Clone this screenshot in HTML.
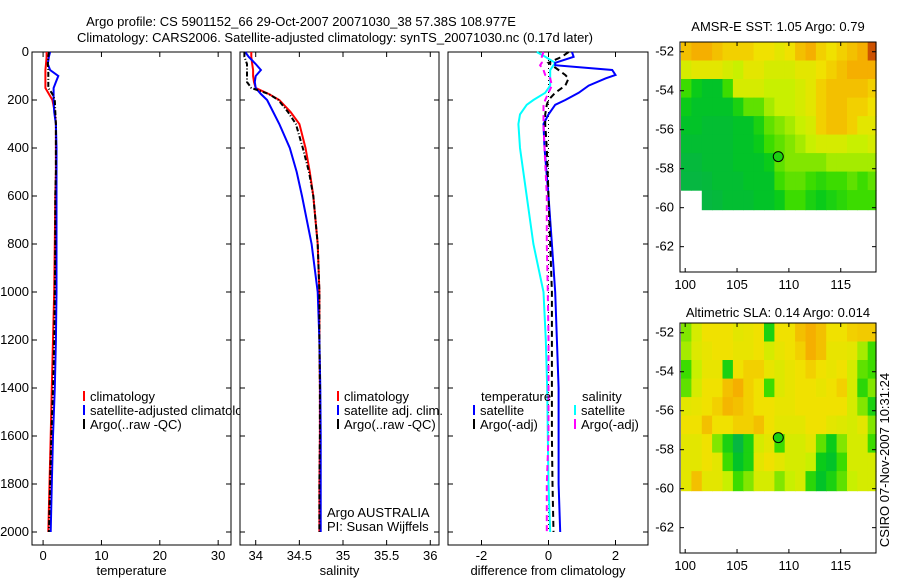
<!DOCTYPE html>
<html><head><meta charset="utf-8">
<style>
html,body{margin:0;padding:0;background:#fff;}
svg{display:block;font-family:"Liberation Sans",sans-serif;}
text{font-size:13px;fill:#000;}
</style></head>
<body>
<svg id="fig" width="900" height="580" viewBox="0 0 900 580">
<text x="301" y="26" text-anchor="middle">Argo profile: CS 5901152_66 29-Oct-2007 20071030_38 57.38S 108.977E</text>
<text x="335" y="42" text-anchor="middle">Climatology: CARS2006. Satellite-adjusted climatology: synTS_20071030.nc (0.17d later)</text>
<text x="778" y="31" text-anchor="middle">AMSR-E SST: 1.05 Argo: 0.79</text>
<text x="778" y="317" text-anchor="middle">Altimetric SLA: 0.14 Argo: 0.014</text>
<text transform="translate(889,460) rotate(-90)" text-anchor="middle">CSIRO 07-Nov-2007 10:31:24</text>
</svg>
<script>
// ---------- data ----------
const depthTS = [0,20,50,75,100,125,150,175,200,250,300,400,500,600,800,1000,1200,1400,1600,1800,2000];
const tempClim = [0.6,0.6,0.5,0.4,0.4,0.4,0.4,1.0,1.6,2.0,2.2,2.2,2.2,2.1,2.0,1.9,1.7,1.5,1.3,1.1,0.9];
const tempSat  = [1.2,1.0,0.8,1.2,2.6,2.2,1.8,1.8,1.8,1.9,2.2,2.3,2.3,2.3,2.3,2.3,2.2,2.0,1.7,1.5,1.3];
const tempArgo = [1.0,0.9,0.8,0.9,0.9,0.9,0.9,1.6,2.0,2.1,2.2,2.2,2.2,2.1,2.1,2.0,1.9,1.7,1.4,1.2,1.0];
const salClim = [33.95,33.95,33.96,33.97,33.97,33.98,34.0,34.15,34.27,34.4,34.5,34.57,34.62,34.66,34.71,34.73,34.73,34.735,34.735,34.73,34.73];
const salSat  = [33.88,33.92,34.0,34.06,34.0,33.99,34.0,34.06,34.13,34.2,34.27,34.39,34.47,34.53,34.64,34.71,34.73,34.74,34.745,34.745,34.745];
const salArgo = [33.87,33.87,33.9,33.9,33.9,33.9,33.95,34.15,34.26,34.37,34.46,34.54,34.61,34.66,34.71,34.73,34.73,34.735,34.735,34.73,34.73];
const depthDiff = [0,20,45,55,75,96,110,140,170,200,220,260,300,400,600,800,1000,1200,1400,1600,1800,2000];
const diffTempSat  = [0.7,0.75,0.2,0.2,1.9,2.0,1.7,1.2,0.9,0.5,0.2,0.0,-0.15,-0.12,0.0,0.1,0.2,0.25,0.3,0.3,0.3,0.35];
const diffTempArgo = [0.6,0.4,0.0,0.1,0.3,0.5,0.6,0.5,0.2,0.0,-0.05,-0.1,-0.1,-0.05,0.0,0.05,0.1,0.1,0.1,0.1,0.12,0.15];
const diffSalSat   = [-0.35,-0.1,0.2,0.15,0.05,0.05,0.05,0.05,-0.1,-0.45,-0.65,-0.85,-0.9,-0.85,-0.65,-0.45,-0.15,-0.08,-0.04,-0.02,0.0,0.05];
const diffSalArgo  = [-0.15,-0.2,-0.2,-0.25,-0.15,-0.1,0.05,0.1,0.0,-0.1,-0.15,-0.15,-0.15,-0.12,-0.05,-0.05,-0.02,0.0,0.0,0.0,-0.05,-0.05];
const depthTicks = [0,200,400,600,800,1000,1200,1400,1600,1800,2000];
const tempTicks = [0,10,20,30];
const salTicks = [34,34.5,35,35.5,36];
const diffTicks = [-2,0,2];
const lonTicks = [100,105,110,115];
const latTicks = [-52,-54,-56,-58,-60,-62];
const mapLons = [99.6,100.6,101.6,102.6,103.6,104.6,105.6,106.6,107.6,108.6,109.6,110.6,111.6,112.6,113.6,114.6,115.6,116.6,117.6];
const mapLats = [-51.5,-52.45,-53.4,-54.35,-55.3,-56.25,-57.2,-58.15,-59.1];
const sstGrid = [
[0.75,0.8,0.8,0.75,0.7,0.7,0.7,0.65,0.65,0.6,0.65,0.75,0.8,0.7,0.65,0.7,0.75,0.8,0.95],
[0.55,0.6,0.6,0.6,0.55,0.5,0.6,0.6,0.55,0.55,0.55,0.6,0.6,0.65,0.7,0.75,0.8,0.8,0.8],
[0.3,0.15,0.1,0.1,0.3,0.55,0.55,0.55,0.5,0.5,0.5,0.55,0.6,0.7,0.75,0.75,0.75,0.75,0.7],
[0.15,0.1,0.1,0.1,0.1,0.2,0.35,0.35,0.45,0.5,0.5,0.55,0.6,0.7,0.75,0.75,0.7,0.7,0.65],
[0.1,0.1,0.08,0.08,0.08,0.1,0.1,0.2,0.35,0.4,0.45,0.5,0.55,0.7,0.75,0.75,0.7,0.6,0.6],
[0.08,0.08,0.08,0.08,0.08,0.1,0.1,0.15,0.3,0.35,0.4,0.45,0.5,0.55,0.55,0.55,0.5,0.5,0.55],
[0.06,0.06,0.08,0.08,0.08,0.1,0.1,0.1,0.15,0.35,0.4,0.4,0.4,0.4,0.45,0.45,0.45,0.45,0.45],
[0.05,0.05,0.06,0.08,0.08,0.08,0.1,0.1,0.1,0.3,0.35,0.35,0.3,0.25,0.3,0.3,0.35,0.3,0.35],
[-1,-1,0.05,0.06,0.08,0.08,0.08,0.1,0.1,0.15,0.3,0.3,0.2,0.15,0.2,0.25,0.3,0.3,0.3]];
const slaGrid = [
[0.4,0.55,0.65,0.65,0.65,0.6,0.62,0.65,0.2,0.65,0.65,0.75,0.8,0.75,0.65,0.65,0.7,0.72,0.72],
[0.45,0.58,0.62,0.65,0.65,0.62,0.62,0.65,0.55,0.62,0.65,0.7,0.8,0.75,0.62,0.62,0.6,0.45,0.3],
[0.3,0.5,0.62,0.62,0.2,0.65,0.7,0.7,0.62,0.58,0.62,0.65,0.7,0.65,0.62,0.65,0.55,0.35,0.3],
[0.35,0.55,0.65,0.65,0.75,0.8,0.7,0.65,0.3,0.58,0.62,0.65,0.65,0.62,0.65,0.7,0.55,0.25,0.4],
[0.6,0.62,0.65,0.7,0.78,0.75,0.7,0.65,0.65,0.62,0.62,0.65,0.65,0.65,0.65,0.65,0.55,0.4,0.2],
[0.65,0.65,0.75,0.65,0.65,0.7,0.7,0.75,0.65,0.6,0.6,0.6,0.65,0.65,0.6,0.58,0.55,0.6,0.4],
[0.6,0.6,0.65,0.4,0.2,0.05,0.2,0.55,0.6,0.3,0.55,0.55,0.6,0.35,0.15,0.4,0.55,0.55,0.3],
[0.6,0.6,0.65,0.6,0.3,0.1,0.2,0.6,0.65,0.6,0.55,0.55,0.5,0.15,0.1,0.3,0.55,0.55,0.55],
[0.6,0.75,0.6,0.6,0.5,0.3,0.4,0.55,0.55,0.4,0.5,0.55,0.25,0.1,0.2,0.35,0.5,0.55,0.55]];
const argoLon = 108.977, argoLat = -57.38;

// ---------- drawing ----------
const NS = 'http://www.w3.org/2000/svg';
const svg = document.getElementById('fig');
function mk(tag, attrs, parent){ const e=document.createElementNS(NS,tag); for(const k in attrs) e.setAttribute(k,attrs[k]); (parent||svg).appendChild(e); return e; }
function lin(d0,d1,r0,r1){ return v => r0 + (v-d0)*(r1-r0)/(d1-d0); }
const yDepth = lin(0,2000,52,532);

function profilePanel(x0,x1,xmin,xmax,ticks,tickFmt,label,name,showY){
  const sx = lin(xmin,xmax,x0,x1);
  const g = mk('g',{});
  
  
  const r = mk('rect',{x:x0,y:52,width:x1-x0,height:493,fill:'#fff',stroke:'#000','stroke-width':1},g);
  
  
  depthTicks.forEach(d=>{
    const y=yDepth(d);
    mk('line',{x1:x0,y1:y,x2:x0+5,y2:y,stroke:'#000'},g);
    mk('line',{x1:x1,y1:y,x2:x1-5,y2:y,stroke:'#000'},g);
    if(showY){ const t=mk('text',{x:x0-3,y:y+4,'text-anchor':'end'},g); t.textContent=d;
      
       }
  });
  ticks.forEach(v=>{
    const x=sx(v);
    mk('line',{x1:x,y1:545,x2:x,y2:540,stroke:'#000'},g);
    mk('line',{x1:x,y1:52,x2:x,y2:57,stroke:'#000'},g);
    const t=mk('text',{x:x,y:560,'text-anchor':'middle'},g); t.textContent=tickFmt(v);
    
    
  });
  const xl=mk('text',{x:(x0+x1)/2,y:575,'text-anchor':'middle'},g); xl.textContent=label;
  
  
  return {sx,g};
}
function series(p,depths,vals,color,dash,name,w){
  const d = depths.map((dd,i)=>(i?'L':'M')+p.sx(vals[i]).toFixed(1)+','+yDepth(dd).toFixed(1)).join('');
  const e = mk('path',{d:d,fill:'none',stroke:color,'stroke-width':w||2,'stroke-dasharray':dash||'none'},p.g);
  
  
}
function legend(x,y,color,label,name,g){
  mk('line',{x1:x,y1:y-10,x2:x,y2:y,stroke:color,'stroke-width':2},g);
  const t=mk('text',{x:x+6,y:y},g); t.textContent=label;
  
  
}

const p1 = profilePanel(32,231,-1.9,32.2,tempTicks,v=>v,'temperature','temperature-panel',true);
series(p1,depthTS,tempClim,'#f00',null,'temp-climatology-line');
series(p1,depthTS,tempSat,'#00f',null,'temp-satellite-line');
series(p1,depthTS,tempArgo,'#000','5,2,1,2','temp-argo-line');
legend(84,401,'#f00','climatology','legend-climatology',p1.g);
legend(84,415,'#00f','satellite-adjusted climatology','legend-satellite-adjusted',p1.g);
legend(84,429,'#000','Argo(..raw -QC)','legend-argo',p1.g);

const p2 = profilePanel(240,439,33.82,36.1,salTicks,v=>v,'salinity','salinity-panel',false);
series(p2,depthTS,salClim,'#f00',null,'sal-climatology-line');
series(p2,depthTS,salSat,'#00f',null,'sal-satellite-line');
series(p2,depthTS,salArgo,'#000','5,2,1,2','sal-argo-line');
legend(338,401,'#f00','climatology','legend-climatology',p2.g);
legend(338,415,'#00f','satellite adj. clim.','legend-satellite-adj',p2.g);
legend(338,429,'#000','Argo(..raw -QC)','legend-argo',p2.g);
[['Argo AUSTRALIA',517],['PI: Susan Wijffels',531]].forEach(a=>{const t=mk('text',{x:327,y:a[1]},p2.g);t.textContent=a[0];
  
  });

const p3 = profilePanel(448,648,-3.0,2.97,diffTicks,v=>v,'difference from climatology','difference-panel',false);
mk('line',{x1:p3.sx(0),y1:52,x2:p3.sx(0),y2:532,stroke:'#000','stroke-width':1,'stroke-dasharray':'1,3'},p3.g);
series(p3,depthDiff,diffSalSat,'#0ff',null,'diff-sal-satellite-line');
series(p3,depthDiff,diffTempSat,'#00f',null,'diff-temp-satellite-line');
series(p3,depthDiff,diffTempArgo,'#000','6,4','diff-temp-argo-line');
series(p3,depthDiff,diffSalArgo,'#f0f','6,4','diff-sal-argo-line');
{const t=mk('text',{x:481,y:401},p3.g);t.textContent='temperature';}
{const t=mk('text',{x:582,y:401},p3.g);t.textContent='salinity';}
legend(474,415,'#00f','satellite','legend-temp-satellite',p3.g);
legend(474,429,'#000','Argo(-adj)','legend-temp-argo',p3.g);
legend(575,415,'#0ff','satellite','legend-sal-satellite',p3.g);
legend(575,429,'#f0f','Argo(-adj)','legend-sal-argo',p3.g);

// colormap green -> yellow -> orange -> red
const cstops=[[0,[10,170,90]],[0.12,[0,200,30]],[0.3,[60,220,0]],[0.5,[200,240,0]],[0.65,[240,225,0]],[0.8,[245,175,0]],[1,[190,50,0]]];
function cmap(v){
  for(let i=1;i<cstops.length;i++){ if(v<=cstops[i][0]){ const a=cstops[i-1],b=cstops[i],t=(v-a[0])/(b[0]-a[0]);
    return 'rgb('+a[1].map((c,k)=>Math.round(c+(b[1][k]-c)*t)).join(',')+')'; } }
  return 'rgb(190,50,0)';
}
function mapPanel(top,grid,name){
  const x0=680,x1=876,y1=top+230;
  const sx=lin(99.5,118.4,x0,x1), sy=lin(-51.5,-63.3,top,y1);
  const g=mk('g',{});
  
  
  mk('rect',{x:x0,y:top,width:x1-x0,height:y1-top,fill:'#fff'},g);
  grid.forEach((row,i)=>row.forEach((v,j)=>{
    if(v<0) return;
    const la0=mapLats[i], la1=i+1<mapLats.length?mapLats[i+1]:-60.1;
    const lo0=mapLons[j], lo1=j+1<mapLons.length?mapLons[j+1]:118.4;
    const c=mk('rect',{x:sx(lo0).toFixed(1),y:sy(la0).toFixed(1),width:(sx(lo1)-sx(lo0)+0.6).toFixed(1),height:(sy(la1)-sy(la0)+0.6).toFixed(1),fill:cmap(v)},g);
    
    
  }));
  const fr=mk('rect',{x:x0,y:top,width:x1-x0,height:y1-top,fill:'none',stroke:'#000'},g);
  
  
  lonTicks.forEach(v=>{const x=sx(v);
    mk('line',{x1:x,y1:y1,x2:x,y2:y1-4,stroke:'#000'},g);
    mk('line',{x1:x,y1:top,x2:x,y2:top+4,stroke:'#000'},g);
    const t=mk('text',{x:x,y:y1+17,'text-anchor':'middle'},g);t.textContent=v;
    
    });
  latTicks.forEach(v=>{const y=sy(v);
    mk('line',{x1:x0,y1:y,x2:x0+4,y2:y,stroke:'#000'},g);
    mk('line',{x1:x1,y1:y,x2:x1-4,y2:y,stroke:'#000'},g);
    const t=mk('text',{x:x0-6,y:y+4,'text-anchor':'end'},g);t.textContent=v;
    
    });
  const ci=mapLats.findIndex((l,i)=>argoLat<=l && (i+1>=mapLats.length||argoLat>mapLats[i+1]));
  const cj=mapLons.findIndex((l,j)=>argoLon>=l && (j+1>=mapLons.length||argoLon<mapLons[j+1]));
  const m=mk('circle',{cx:sx(argoLon),cy:sy(argoLat),r:5,fill:cmap(Math.min(grid[ci][cj],0.2)),stroke:'#000','stroke-width':1},g);
  
  
}
mapPanel(42,sstGrid,'sst-map');
mapPanel(323,slaGrid,'sla-map');
</script>
</body></html>
